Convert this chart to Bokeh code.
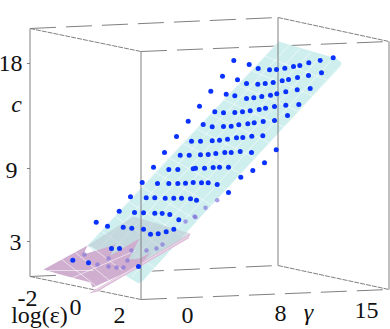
from bokeh.plotting import figure
from bokeh.models import Range1d
from bokeh.core.properties import value
from bokeh.embed import file_html
from bokeh.resources import INLINE

# Values, as projected screen positions of the 3-D scene
cyan_x = [278, 336, 341, 340, 195, 143, 138, 120, 87, 163]
cyan_y = [41, 58, 62, 66, 222, 280, 283, 272, 245, 163]
shade_x = [87, 133, 190, 186, 143, 110]
shade_y = [245, 216, 233, 238, 262, 255]
pink_x = [43, 87, 83, 115, 110, 139, 128, 139, 150, 140, 110, 97, 92, 90, 60]
pink_y = [269, 245, 254, 244, 255, 238, 259, 258, 252, 265, 279, 285, 287, 282, 274]
strip_x = [88, 190, 188, 97]
strip_y = [293, 233, 238, 291]

mesh_a = [(278, 41), (341, 64)]
mesh_b = [(87, 245), (140, 283)]
n_long, n_cross = 6, 14

pts_x = [332.7, 319.7, 308.3, 299.3, 293, 284.3, 276, 269, 257.7, 248.7, 233.3,
         321, 308, 297, 288, 281.7, 272.7, 264.7, 257.3, 246, 237, 222,
         309.7, 296.7, 285.3, 276.3, 270, 261.3, 253.3, 246, 234.3, 225.7, 210.3,
         298.3, 285.3, 274, 265, 258.7, 249.7, 242, 234.3, 223, 214.3, 199,
         287, 274, 262.7, 253.7, 247.3, 238.3, 230.7, 223, 211.7, 202.7,
         275.7, 262.3, 251.3, 242.3, 236, 227, 219, 211.7, 200,
         264, 251, 239.7, 230.7, 224.3, 215.3, 207.7, 200,
         187.7, 176, 191, 164, 179.7, 188.7,
         153, 168.3, 177.3, 192.7,
         141.7, 157, 168.3, 177.3, 185, 192.7,
         130, 145.7, 154.3, 164.7, 173.3, 181, 190,
         118.7, 134, 143, 154.3, 161.7, 169.3,
         95.7, 107, 122.7, 131.3, 143, 150, 157.7, 165.7, 173.3, 178.3,
         72.3, 88, 111, 119, 138,
         252.3, 240.3, 228, 219, 212.7, 204, 195,
         228, 216.7, 207.7, 201, 196]
pts_y = [57.3, 60, 62.3, 65, 66, 67.7, 69, 69.3, 68, 64, 60,
         72.3, 75, 77, 79, 80.3, 82, 83, 83.7, 83, 79.3, 75.7,
         88, 89.3, 91.3, 93.3, 94.7, 96, 97.3, 98, 95.3, 93.7, 90.7,
         104, 104.7, 106, 107.7, 109, 110.3, 111.3, 112, 112.3, 111.3, 105.7,
         115, 120, 121, 122.3, 123.3, 124.3, 125.7, 126, 126.3, 124,
         149.3, 135.3, 135.7, 137, 137.3, 138.7, 139.7, 140.3, 140.7,
         162.3, 152, 151, 152, 152, 153, 154, 154.3,
         120.7, 136, 140.7, 152, 154.7, 154.7,
         166.7, 169, 169, 168.3,
         182, 183, 183, 183, 182.7, 182,
         196.3, 197.3, 197.3, 197.7, 197.7, 197.7, 198.3,
         210.7, 212, 212.3, 212.7, 213, 214,
         221.7, 225.7, 226.7, 227.7, 228.7, 233.7, 233.3, 231.3, 228.7, 219.3,
         259.7, 262.3, 248, 248, 266,
         170, 176.7, 166.7, 166.7, 167, 167.7, 167.7,
         192, 184, 182.3, 182.3, 199.7]
hidden_x = [84, 97, 108, 108, 116, 123, 127, 131, 146, 156, 162, 185, 194, 216.7, 205, 195]
hidden_y = [254, 264, 258, 266, 267, 267, 260, 250, 250, 248, 244, 221, 216, 199.7, 207.3, 216.7]

ticks = [("18", 10, 63), ("9", 11, 170), ("3", 15, 242)]
eps_ticks = [("-2", 27, 298), ("0", 75, 307), ("2", 119, 315)]
gam_ticks = [("0", 187, 315), ("8", 280, 313), ("15", 366, 310)]

GREY = "#808080"
p = figure(width=390, height=329, x_range=Range1d(0, 390), y_range=Range1d(329, 0),
           toolbar_location=None, output_backend="svg", min_border=0,
           outline_line_color=None, background_fill_color="white")
p.axis.visible = False
p.grid.visible = False

# back frame lines
solid = [([29.5, 29.5], [28, 276]), ([388.5, 388.5], [41, 289])]
for xs, ys in solid:
    p.line(xs, ys, line_color=GREY, line_width=1)
for xs, ys in [([29.5, 277.5], [28, 17]), ([140.5, 388.5], [51, 41]),
               ([29.5, 277.5], [276, 265]), ([140.5, 388.5], [299, 289])]:
    p.line(xs, ys, line_color=GREY, line_width=1, line_dash="26 10")
for xs, ys in [([29.5, 140.5], [28, 51]), ([277.5, 388.5], [17, 41]),
               ([29.5, 140.5], [276, 299]), ([277.5, 388.5], [265, 289])]:
    p.line(xs, ys, line_color=GREY, line_width=1, line_dash="5 1")
for y in [63, 168, 241]:
    p.line([26.5, 29.5], [y, y], line_color=GREY, line_width=1)

p.patch(cyan_x, cyan_y, fill_color="#cfeeee", line_color=None)

# white mesh of the cyan surface
mx, my = [], []
for i in range(n_long + 1):
    t = i / n_long
    mx.append([mesh_a[0][0] + (mesh_a[1][0] - mesh_a[0][0]) * t, mesh_b[0][0] + (mesh_b[1][0] - mesh_b[0][0]) * t])
    my.append([mesh_a[0][1] + (mesh_a[1][1] - mesh_a[0][1]) * t, mesh_b[0][1] + (mesh_b[1][1] - mesh_b[0][1]) * t])
for j in range(1, n_cross):
    s = j / n_cross
    mx.append([mesh_a[0][0] + (mesh_b[0][0] - mesh_a[0][0]) * s, mesh_a[1][0] + (mesh_b[1][0] - mesh_a[1][0]) * s])
    my.append([mesh_a[0][1] + (mesh_b[0][1] - mesh_a[0][1]) * s, mesh_a[1][1] + (mesh_b[1][1] - mesh_a[1][1]) * s])
p.multi_line(mx, my, line_color="white", line_alpha=0.55, line_width=1)

p.patch(shade_x, shade_y, fill_color="#b9c9d2", fill_alpha=0.55, line_color=None)
p.patch(pink_x, pink_y, fill_color="#cfaecf", line_color=None)
p.patch(strip_x, strip_y, fill_color="#dcbcd8", line_color=None)
p.line([95, 188], [290, 236], line_color="white", line_alpha=0.5, line_width=1)

# pink surface mesh
p.multi_line([[60, 95], [75, 110], [90, 122], [48, 93], [68, 135]],
             [[258, 285], [252, 281], [246, 270], [270, 270], [279, 250]],
             line_color="white", line_alpha=0.6, line_width=1)

# the front and middle verticals show over the surfaces
p.line([140.5, 140.5], [51, 299], line_color=GREY, line_width=1)
p.line([277.5, 277.5], [17, 265], line_color=GREY, line_width=1)

p.scatter(hidden_x, hidden_y, size=4.5, fill_color="#7f6fdc", line_color=None, fill_alpha=0.65)
p.scatter(pts_x, pts_y, size=5, fill_color="#0a32ff", line_color=None)

serif = value("Liberation Serif")
for group in (ticks, eps_ticks, gam_ticks):
    p.text([g[1] for g in group], [g[2] for g in group], text=[g[0] for g in group],
           text_font=serif, text_font_size="24px", text_align="center",
           text_baseline="middle", text_color="#111111")
p.text([16], [103], text=["c"], text_font=serif, text_font_style="italic", text_font_size="24px",
       text_align="center", text_baseline="middle", text_color="#111111")
p.text([308], [311], text=["γ"], text_font=serif, text_font_style="italic", text_font_size="24px",
       text_align="center", text_baseline="middle", text_color="#111111")
p.text([39], [314], text=["log(ε)"], text_font=serif, text_font_size="24px",
       text_align="center", text_baseline="middle", text_color="#111111")

open("out.html", "w").write(file_html(p, INLINE))
